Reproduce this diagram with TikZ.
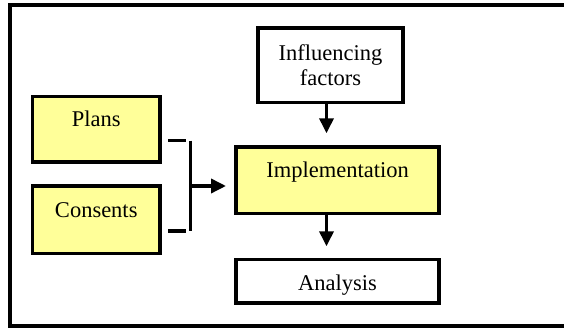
\documentclass[tikz,border=0pt]{standalone}
\usepackage{fontspec}
\setmainfont{Liberation Serif}
\usetikzlibrary{arrows.meta,calc}
\definecolor{paleyellow}{HTML}{FFFF99}
\tikzset{
	box/.style={draw, line width=3.5pt, inner sep=0pt, outer sep=0pt, align=center, font=\fontsize{22.5}{24.3}\selectfont},
	ybox/.style={box, fill=paleyellow},
	arr/.style={-{Triangle[length=15pt,width=14pt]}, line width=3.5pt},
}
\begin{document}
\begin{tikzpicture}[x=1pt, y=1pt, line cap=butt]
	\useasboundingbox (0,0) rectangle (564,328);
	\draw[line width=3.5pt] (570,323)--(10,323)--(10,2)--(570,2);
	% boxes
	\node[ybox, anchor=north, minimum width=127.5pt, text height=30.2pt, text depth=35.3pt] (plans) at (96.25,231.5) {Plans};
	\node[ybox, anchor=north, minimum width=127.5pt, text height=31.3pt, text depth=36.2pt] (consents) at (96.25,142) {Consents};
	\node[box, minimum width=145pt, minimum height=74.5pt] (infl) at (330.5,262.75) {Influencing\\factors};
	\node[ybox, anchor=north, minimum width=203pt, text height=31pt, text depth=35.5pt] (impl) at (337.5,181) {Implementation};
	\node[box, anchor=north, minimum width=203pt, text height=31.2pt, text depth=12.3pt] (anal) at (337.5,68.5) {Analysis};
	% bracket
	\foreach \n in {plans,consents} \draw[line width=3.5pt] ([shift={(8,-11.5)}]\n.east) -- ++(18,0);
	\coordinate (jtop) at ([shift={(30.5,-11.5)}]plans.east);
	\coordinate (jbot) at ([shift={(30.5,-11.5)}]consents.east);
	\coordinate (jmid) at ($(jtop)!.5!(jbot)$);
	\draw[line width=3.5pt] (jtop) -- (jbot);
	\draw[arr, shorten >=10pt] (jmid) -- (jmid -| impl.west);
	% arrows down
	\coordinate (ax) at (326.5,0);
	\draw[arr, shorten >=13.7pt] (infl.south -| ax) -- (impl.north -| ax);
	\draw[arr, shorten >=13.2pt] (impl.south -| ax) -- (anal.north -| ax);
\end{tikzpicture}
\end{document}
